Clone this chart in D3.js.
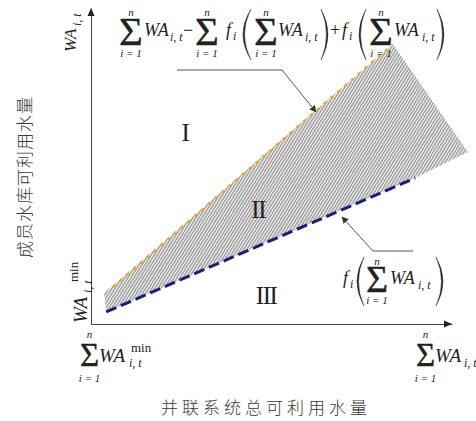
<!DOCTYPE html>
<html>
<head>
<meta charset="utf-8">
<style>
  body { margin: 0; background: #fff; }
  svg { display: block; }
  .math { font-family: "Liberation Serif", "DejaVu Serif", "Times New Roman", serif; fill: #222; }
  .it { font-style: italic; }
  .sig { stroke: #222; stroke-width: 0.35; }
  .cjk { font-family: "Noto Sans CJK SC", sans-serif; font-weight: 300; fill: #3a3a3a; }
  .axis path { stroke: #444; }
</style>
</head>
<body>
<script src="https://cdn.jsdelivr.net/npm/d3@7/dist/d3.min.js"></script>
<script>

// chart data, both axes in relative units 0-100
var lowerLine = [[4.2, 3.8], [89.8, 46.2]];           // f_i(sum WA)
var upperLine = [[6.1, 11.7], [83.4, 88.3]];          // sum WA - sum f + f
var feasible = [[3.6, 9.8], [83.6, 88.6], [104.4, 54.4], [89.8, 46.2], [4.2, 3.8]];
var regionNames = ["I", "II", "III"];
var regionAt = [[26, 57.9], [46.3, 33.5], [48.5, 6.3]];
var xTitle = "并联系统总可利用水量";
var yTitle = "成员水库可利用水量";

var W = 476, H = 421;

var x = d3.scaleLinear().domain([0, 100]).range([91, 452]);
var y = d3.scaleLinear().domain([0, 100]).range([324, 8]);

var svg = d3.select("body").append("svg")
    .attr("width", W)
    .attr("height", H);

var defs = svg.append("defs");

// fine diagonal hatching
defs.append("pattern")
    .attr("id", "hatch")
    .attr("patternUnits", "userSpaceOnUse")
    .attr("width", 2.6)
    .attr("height", 10)
    .attr("patternTransform", "rotate(32)")
  .append("line")
    .attr("x1", 0.8).attr("y1", 0)
    .attr("x2", 0.8).attr("y2", 10)
    .attr("stroke", "#7e7e7e")
    .attr("stroke-width", 1.2);

defs.append("marker")
    .attr("id", "arrow")
    .attr("viewBox", "0 0 10 10")
    .attr("refX", 9).attr("refY", 5)
    .attr("markerWidth", 7).attr("markerHeight", 7)
    .attr("markerUnits", "userSpaceOnUse")
    .attr("orient", "auto")
  .append("path")
    .attr("d", "M0,0L10,5L0,10z")
    .attr("fill", "#333");

// axes without ticks, arrowheads added by hand
svg.append("g")
    .attr("class", "axis")
    .attr("transform", "translate(0," + y(0) + ")")
    .call(d3.axisBottom(x).ticks(0).tickSizeOuter(0));
svg.append("g")
    .attr("class", "axis")
    .attr("transform", "translate(" + x(0) + ",0)")
    .call(d3.axisLeft(y).ticks(0).tickSizeOuter(0));

svg.append("path")
    .attr("d", "M" + x(100) + "," + y(0) + "l-8,-3.5v7z")
    .attr("fill", "#222");
svg.append("path")
    .attr("d", "M" + x(0) + "," + y(100) + "l-3.5,8h7z")
    .attr("fill", "#222");

var line = d3.line()
    .x(function(d) { return x(d[0]); })
    .y(function(d) { return y(d[1]); });

// hatched feasible region
svg.append("path")
    .datum(feasible)
    .attr("d", line.curve(d3.curveLinearClosed))
    .attr("fill", "url(#hatch)");
line.curve(d3.curveLinear);

svg.append("path")
    .datum(upperLine)
    .attr("d", line)
    .attr("fill", "none")
    .attr("stroke", "#f2a32a")
    .attr("stroke-width", 2.6)
    .attr("stroke-dasharray", "3,6");

svg.append("path")
    .datum(lowerLine)
    .attr("d", line)
    .attr("fill", "none")
    .attr("stroke", "#1c1f7a")
    .attr("stroke-width", 3)
    .attr("stroke-dasharray", "11,5");

// region numerals
svg.selectAll(".region")
    .data(regionNames)
    .enter().append("text")
    .attr("class", "math region")
    .attr("x", function(d, i) { return x(regionAt[i][0]); })
    .attr("y", function(d, i) { return y(regionAt[i][1]); })
    .attr("text-anchor", "middle")
    .attr("font-size", 25)
    .attr("letter-spacing", -1.5)
    .text(function(d) { return d; });

// leader lines
svg.append("path")
    .attr("d", "M177,70H282L316,112")
    .attr("fill", "none")
    .attr("stroke", "#555")
    .attr("marker-end", "url(#arrow)");
svg.append("path")
    .attr("d", "M413,251H373L342,217")
    .attr("fill", "none")
    .attr("stroke", "#555")
    .attr("marker-end", "url(#arrow)");

// --- small math typesetting helpers ---
function txt(g, px, py, s, size, italic) {
    return g.append("text")
        .attr("class", italic ? "math it" : "math")
        .attr("x", px).attr("y", py)
        .attr("font-size", size)
        .text(s);
}

function sum(g, px, b, size, nDy, iDy, sDy) {
    var sig = txt(g, px, b + sDy, "\u03A3", size, false).classed("sig", true);
    var cx = px + sig.node().getComputedTextLength() / 2;
    txt(g, cx, b + nDy, "n", 11, true).attr("text-anchor", "middle");
    txt(g, cx, b + iDy, "i = 1", 11, true).attr("text-anchor", "middle");
}

function paren(g, xEnd, xOut, top, bottom) {
    var mid = (top + bottom) / 2;
    var c = xEnd + 2 * (xOut - xEnd);
    var c2 = c + (xEnd > xOut ? 3.2 : -3.2);
    g.append("path")
        .attr("d", "M" + xEnd + "," + top + "Q" + c + "," + mid + " " + xEnd + "," + bottom +
            "Q" + c2 + "," + mid + " " + xEnd + "," + top + "Z")
        .attr("fill", "#222")
        .attr("stroke", "#222")
        .attr("stroke-width", 0.4);
}

// top formula
var f1 = svg.append("g");
var b1 = 36;
sum(f1, 119, b1, 41, -20, 21, 9);
txt(f1, 144, b1, "WA", 18, true);
txt(f1, 170, b1 + 5, "i, t", 12, true);
txt(f1, 183, b1, "\u2212", 18, false);
sum(f1, 195, b1, 41, -20, 21, 9);
txt(f1, 226, b1, "f", 18, true);
txt(f1, 233, b1 + 4, "i", 12, true);
paren(f1, 251, 243, 9, 60);
sum(f1, 254, b1, 41, -20, 21, 9);
txt(f1, 278, b1, "WA", 18, true);
txt(f1, 305, b1 + 5, "i, t", 12, true);
paren(f1, 321, 328, 9, 60);
txt(f1, 330, b1, "+", 18, false);
txt(f1, 342, b1, "f", 18, true);
txt(f1, 349, b1 + 4, "i", 12, true);
paren(f1, 366, 359, 9, 60);
sum(f1, 369, b1, 41, -20, 21, 9);
txt(f1, 394, b1, "WA", 18, true);
txt(f1, 422, b1 + 5, "i, t", 12, true);
paren(f1, 437, 444, 9, 60);

// lower formula
var f2 = svg.append("g");
var b2 = 284;
txt(f2, 343, b2, "f", 18, true);
txt(f2, 350, b2 + 4, "i", 12, true);
paren(f2, 364, 357, 257, 306);
sum(f2, 366, b2, 38, -19, 20, 8);
txt(f2, 390, b2, "WA", 18, true);
txt(f2, 418, b2 + 5, "i, t", 12, true);
paren(f2, 436, 443, 257, 306);

// x axis end labels
var xl = svg.append("g");
var bx = 362;
sum(xl, 80, bx, 33, -24, 20, 4);
txt(xl, 99, bx, "WA", 19, true);
txt(xl, 129, bx + 5, "i, t", 12, true);
txt(xl, 131, bx - 10, "min", 13, false);
sum(xl, 416, bx, 33, -24, 20, 4);
txt(xl, 435, bx, "WA", 19, true);
txt(xl, 464, bx + 5, "i, t", 12, true);

// y axis end labels (rotated)
var yl1 = svg.append("g").attr("transform", "translate(76,52) rotate(-90)");
txt(yl1, 0, 0, "WA", 17, true);
txt(yl1, 26, 5, "i, t", 12, true);
var yl2 = svg.append("g").attr("transform", "translate(87,323) rotate(-90)");
txt(yl2, 0, 0, "WA", 19, true);
txt(yl2, 30, 5, "i, t", 12, true);
txt(yl2, 41, -9, "min", 13, false);

// axis titles
svg.append("text")
    .attr("class", "cjk")
    .attr("x", 266).attr("y", 414)
    .attr("text-anchor", "middle")
    .attr("font-size", 17)
    .attr("letter-spacing", 4)
    .text(xTitle);
svg.append("text")
    .attr("class", "cjk")
    .attr("transform", "translate(31,177) rotate(-90)")
    .attr("text-anchor", "middle")
    .attr("font-size", 17)
    .attr("letter-spacing", 1)
    .text(yTitle);

</script>
</body>
</html>
